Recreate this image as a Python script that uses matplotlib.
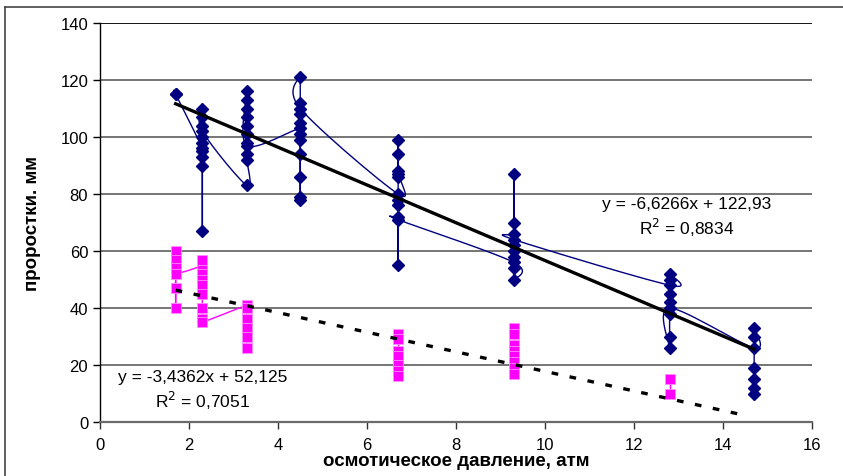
import numpy as np
import matplotlib
matplotlib.use("Agg")
import matplotlib.pyplot as plt
from matplotlib.lines import Line2D

plt.rcParams['font.family'] = ['Liberation Sans', 'DejaVu Sans']

# ---- data (series order as in the sheet) ----
blue_x = [1.7, 1.7,
          2.3, 2.3, 2.3, 2.3, 2.3, 2.3, 2.3, 2.3, 2.3, 2.3, 2.3,
          3.3, 3.3, 3.3, 3.3, 3.3, 3.3, 3.3, 3.3, 3.3, 3.3, 3.3,
          4.5, 4.5, 4.5, 4.5, 4.5, 4.5, 4.5, 4.5, 4.5, 4.5, 4.5, 4.5,
          6.7, 6.7, 6.7, 6.7, 6.7, 6.7, 6.7, 6.7, 6.7, 6.7, 6.7,
          9.3, 9.3, 9.3, 9.3, 9.3, 9.3, 9.3, 9.3, 9.3, 9.3,
          12.8, 12.8, 12.8, 12.8, 12.8, 12.8, 12.8, 12.8, 12.8,
          14.7, 14.7, 14.7, 14.7, 14.7, 14.7, 14.7]
blue_y = [115, 115,
          96, 93, 90, 67, 95, 98, 100, 104, 107, 110, 102,
          83, 92, 94, 98, 101, 104, 107, 110, 113, 116, 97,
          103, 99, 94, 86, 79, 78, 101, 105, 108, 112, 121, 110,
          80, 88, 99, 94, 87, 86, 55, 78, 76, 72, 71,
          56, 50, 54, 58, 60, 62, 87, 70, 66, 64,
          48, 52, 50, 45, 42, 38, 30, 26, 40,
          26, 33, 30, 19, 15, 12, 10]

# magenta series split into contiguous runs (gaps = empty cells)
pink_runs_x = [[1.7, 1.7, 1.7, 1.7, 1.7, 1.7,
                2.3, 2.3, 2.3, 2.3, 2.3, 2.3, 2.3, 2.3, 2.3,
                3.3, 3.3, 3.3, 3.3, 3.3, 3.3],
               [6.7, 6.7, 6.7, 6.7, 6.7, 6.7, 6.7],
               [9.3, 9.3, 9.3, 9.3, 9.3, 9.3, 9.3, 9.3],
               [12.8, 12.8]]
pink_runs_y = [[60, 57, 47, 40, 54, 52,
                55, 57, 52, 50, 48, 45, 40, 36, 35,
                41, 40, 36, 33, 30, 26],
               [31, 29, 25, 23, 20, 18, 16],
               [33, 31, 27, 25, 23, 21, 19, 17],
               [15, 10]]

blue_trend = (-6.6266, 122.93)
blue_trend_x = [1.7, 14.7]
pink_trend = (-3.4362, 52.125)
pink_trend_x = [1.7, 14.5]

blue_eq = "y = -6,6266x + 122,93"
blue_r2 = "R$^2$ = 0,8834"
pink_eq = "y = -3,4362x + 52,125"
pink_r2 = "R$^2$ = 0,7051"

x_ticks = [0, 2, 4, 6, 8, 10, 12, 14, 16]
y_ticks = [0, 20, 40, 60, 80, 100, 120, 140]
x_label = "осмотическое давление, атм"
y_label = "проростки. мм"


def smooth(xs, ys, n=16):
    xs = np.asarray(xs, float)
    ys = np.asarray(ys, float)
    if len(xs) < 3:
        return xs, ys
    P = np.column_stack([xs, ys])
    sx, sy = 44.5, 2.85
    Q = P * [sx, sy]
    out = [Q[0]]
    for i in range(len(Q) - 1):
        p0 = Q[i - 1] if i > 0 else Q[i]
        p1 = Q[i]
        p2 = Q[i + 1]
        p3 = Q[i + 2] if i + 2 < len(Q) else Q[i + 1]
        c1 = p1 + (p2 - p0) / 6.0
        c2 = p2 - (p3 - p1) / 6.0
        s = np.linspace(0, 1, n)[1:, None]
        seg = ((1 - s) ** 3) * p1 + 3 * ((1 - s) ** 2) * s * c1 + 3 * (1 - s) * s ** 2 * c2 + s ** 3 * p2
        out.extend(seg)
    out = np.array(out) / [sx, sy]
    return out[:, 0], out[:, 1]


fig = plt.figure(figsize=(8.43, 4.77), dpi=100)
ax = fig.add_axes([100 / 843, (477 - 423) / 477, (812 - 100) / 843, (423 - 24) / 477])

for yv in y_ticks[1:]:
    ax.axhline(yv, color='#000000' if yv == 140 else '#6a6a6a', lw=1.3, zorder=1)

# blue series
sx_, sy_ = smooth(blue_x, blue_y)
ax.plot(sx_, sy_, color='#000080', lw=1.0, zorder=3)
ax.plot(blue_x, blue_y, linestyle='none', marker='D', ms=6.2, color='#000080', zorder=4)

# pink series
for rx, ry in zip(pink_runs_x, pink_runs_y):
    px_, py_ = smooth(rx, ry)
    ax.plot(px_, py_, color='#FF00FF', lw=1.0, zorder=3)
    ax.plot(rx, ry, linestyle='none', marker='s', ms=6.6, color='#FF00FF',
            markeredgecolor='#ff8cff', markeredgewidth=0.6, zorder=4)

# trendlines
bt = np.array(blue_trend_x)
ax.plot(bt, blue_trend[0] * bt + blue_trend[1], color='black', lw=2.4, zorder=5)
pt = np.array(pink_trend_x)
ax.plot(pt, pink_trend[0] * pt + pink_trend[1], color='black', lw=2.4,
        dashes=(2.0, 3.5), zorder=5)

# equations
eq_fs = 12.5
ax.text(13.19, 76.6, blue_eq, fontsize=eq_fs, ha='center', va='center')
ax.text(13.19, 68.4, blue_r2, fontsize=eq_fs, ha='center', va='center')
ax.text(2.31, 15.8, pink_eq, fontsize=eq_fs, ha='center', va='center')
ax.text(2.31, 7.8, pink_r2, fontsize=eq_fs, ha='center', va='center')

ax.set_xlim(0, 16)
ax.set_ylim(0, 140)
ax.set_xticks(x_ticks)
ax.set_yticks(y_ticks)
ax.tick_params(axis='both', labelsize=12, direction='out', length=5, width=1)
ax.tick_params(axis='x', pad=6, color='#333333')
ax.spines['top'].set_visible(False)
ax.spines['right'].set_visible(False)
ax.spines['left'].set_color('black')
ax.spines['left'].set_linewidth(1)
ax.spines['bottom'].set_color('#6a6a6a')
ax.spines['bottom'].set_linewidth(1.6)
ax.spines['bottom'].set_zorder(6)

ax.set_xlabel(x_label, fontsize=13.5, fontweight='bold', labelpad=0)
ax.set_ylabel(y_label, fontsize=13.5, fontweight='bold', labelpad=14)

# outer frame of the chart area
fig.add_artist(Line2D([5 / 843, 5 / 843], [0, 1 - 8 / 477], transform=fig.transFigure,
                      color='#444444', lw=1.2))
fig.add_artist(Line2D([5 / 843, 1], [1 - 8 / 477, 1 - 8 / 477], transform=fig.transFigure,
                      color='#444444', lw=1.2))

fig.savefig('out.png', dpi=100)
